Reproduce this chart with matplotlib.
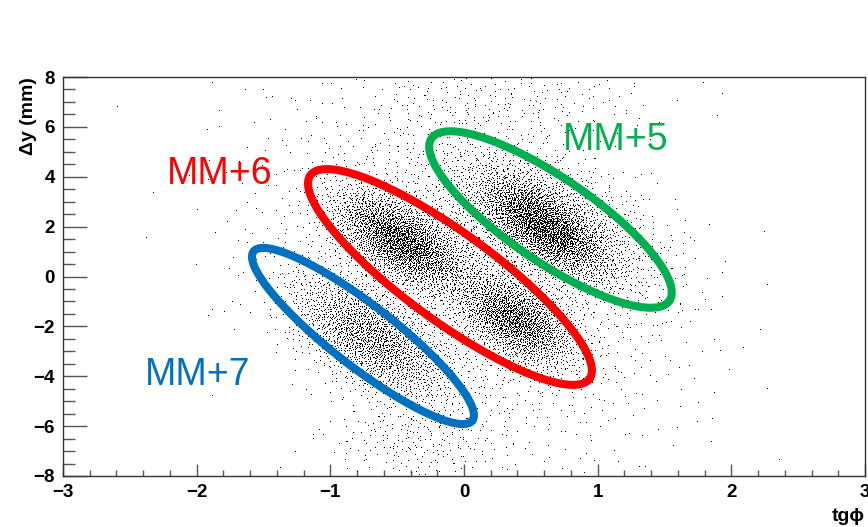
import numpy as np
import matplotlib
matplotlib.use('Agg')
import matplotlib.pyplot as plt
from matplotlib.ticker import MultipleLocator

# hit clouds: centre, spread, correlation and number of hits per component
cloud_cx = [0.60, 0.62, -0.47, 0.38, -0.70, 0.0, 0.25, -0.35]
cloud_cy = [2.00, 2.10, 1.40, -1.75, -2.50, 0.0, 7.0, -6.6]
cloud_sx = [0.24, 0.42, 0.25, 0.22, 0.30, 0.75, 0.60, 0.35]
cloud_sy = [1.00, 1.55, 1.00, 0.95, 1.30, 3.40, 1.00, 0.90]
cloud_rho = [-0.65, -0.55, -0.60, -0.50, -0.60, -0.35, 0.0, 0.0]
cloud_n = [2500, 1800, 2900, 2100, 2100, 1900, 260, 220]

# selection ellipses: centre, major semi-axis vector, minor semi-axis vector
ring_labels = ['MM+5', 'MM+6', 'MM+7']
ring_colors = ['#00B050', '#FF0000', '#0070C0']
ring_cx = [0.647, -0.105, -0.756]
ring_cy = [2.285, -0.02, -2.386]
ring_major = [(0.890, -3.254), (1.044, -4.081), (0.818, -3.393)]
ring_minor = [(0.177, 1.391), (0.195, 1.435), (0.142, 0.983)]
label_x = [0.741, -2.222, -2.386]
label_y = [5.07, 3.71, -4.35]


def halton(n, base, start):
    i = np.arange(start, start + n)
    r = np.zeros(n)
    f = 1.0
    while np.any(i > 0):
        f /= base
        r += f * (i % base)
        i = i // base
    return r


def cloud(cx, cy, sx, sy, rho, n, start):
    u1 = halton(n, 2, start)
    u2 = halton(n, 3, start)
    r = np.sqrt(-2 * np.log(u1))
    z1 = r * np.cos(2 * np.pi * u2)
    z2 = r * np.sin(2 * np.pi * u2)
    x = cx + sx * z1
    y = cy + sy * (rho * z1 + np.sqrt(1 - rho ** 2) * z2)
    return x, y


plt.rcParams['font.family'] = ['Liberation Sans', 'DejaVu Sans']

fig = plt.figure(figsize=(8.68, 5.27), dpi=100)
ax = fig.add_axes([63 / 868, 51 / 527, 802 / 868, 399 / 527])
ax.set_xlim(-3, 3)
ax.set_ylim(-8, 8)

start = 1
for cx, cy, sx, sy, rho, n in zip(cloud_cx, cloud_cy, cloud_sx, cloud_sy, cloud_rho, cloud_n):
    x, y = cloud(cx, cy, sx, sy, rho, n, start)
    start += n + 17
    ax.plot(x, y, ',', color='black')

t = np.linspace(0, 2 * np.pi, 500)
for cx, cy, (ux, uy), (vx, vy), c in zip(ring_cx, ring_cy, ring_major, ring_minor, ring_colors):
    ax.plot(cx + ux * np.cos(t) + vx * np.sin(t),
            cy + uy * np.cos(t) + vy * np.sin(t),
            color=c, lw=5.8, solid_capstyle='round')

for lab, x, y, c in zip(ring_labels, label_x, label_y, ring_colors):
    ax.text(x, y, lab, color=c, fontsize=27, ha='left', va='baseline')

# ROOT-like axes
ax.xaxis.set_major_locator(MultipleLocator(1))
ax.xaxis.set_minor_locator(MultipleLocator(0.2))
ax.yaxis.set_major_locator(MultipleLocator(2))
ax.yaxis.set_minor_locator(MultipleLocator(0.5))
ax.tick_params(axis='both', which='both', direction='in', color='#555555', width=1,
               top=False, right=False, labelsize=13.5)
ax.tick_params(axis='y', which='major', length=17.3, pad=6)
ax.tick_params(axis='y', which='minor', length=8.6)
ax.tick_params(axis='x', which='major', length=8.6, pad=6)
ax.tick_params(axis='x', which='minor', length=4.3)
for lab in ax.get_xticklabels() + ax.get_yticklabels():
    lab.set_fontweight('bold')
for s in ax.spines.values():
    s.set_color('#333333')
    s.set_linewidth(1)

ax.set_ylabel('\u0394y (mm)', fontsize=14, fontweight='bold', loc='top', labelpad=-3)
ax.set_xlabel('tg\u03d5', fontsize=14, fontweight='bold', loc='right', labelpad=5)

fig.savefig('out.png', dpi=100)
